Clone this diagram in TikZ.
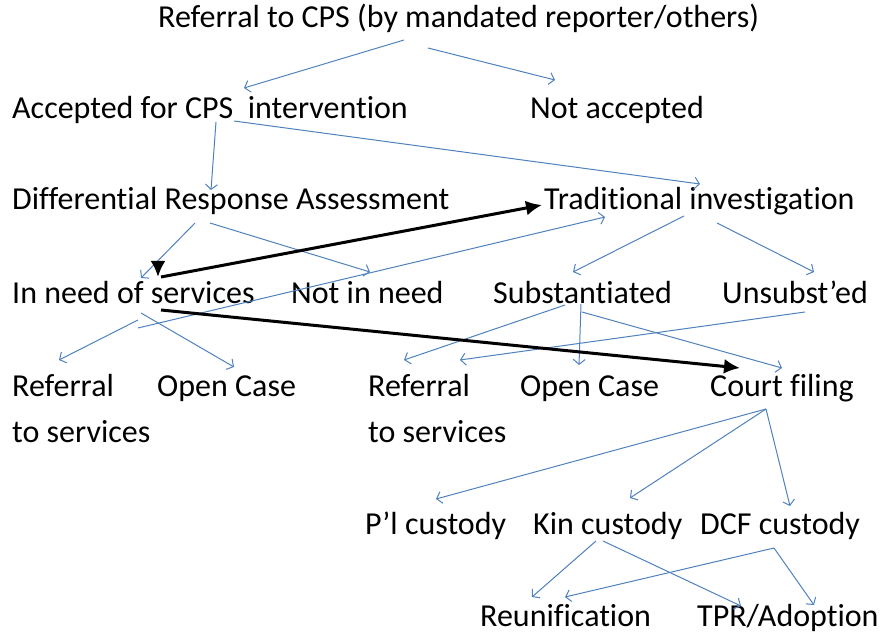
\documentclass[tikz,border=0pt]{standalone}
\usepackage{fontspec}
\setmainfont{Carlito}[Ligatures={NoCommon,NoContextual}]
\usetikzlibrary{arrows.meta,calc}
\definecolor{flowblue}{RGB}{79,129,189}
\tikzset{
    step box/.style={anchor=base west, inner sep=0pt, font=\fontsize{32}{46}\selectfont, align=left},
    flow/.style={draw=flowblue, line width=1pt, -{Straight Barb[length=5pt,width=12pt]}},
    jump/.style={draw=black, line width=3pt, -{Latex[length=16pt,width=15pt]}}
}
\begin{document}
\begin{tikzpicture}[x=1pt, y=-1pt]
    \useasboundingbox (0,0) rectangle (884,639);
    \begin{scope}[every node/.style={step box}]
        \node (ref)   at (158,28)  {Referral to CPS (by mandated reporter/others)};
        \node (acc)   at (12,119)  {Accepted for CPS\ \ intervention};
        \node (nacc)  at (530,119) {Not accepted};
        \node (dra)   at (12,210)  {Differential Response Assessment};
        \node (trad)  at (544,210) {Traditional investigation};
        \node (need)  at (12,304)  {In need of services};
        \node (nneed) at (291,304) {Not in need};
        \node (subst) at (493,304) {Substantiated};
        \node (unsub) at (722,304) {Unsubst’ed};
        \node (refl)  at (12,442)  {Referral\\to services};
        \node (openl) at (157,396) {Open Case};
        \node (refm)  at (368,442) {Referral\\to services};
        \node (openm) at (520,396) {Open Case};
        \node (court) at (710,396) {Court filing};
        \node (pl)    at (365,534) {P’l custody};
        \node (kin)   at (533,534) {Kin custody};
        \node (dcf)   at (700,534) {DCF custody};
        \node (reun)  at (480,626) {Reunification};
        \node (tpr)   at (697,626) {TPR/Adoption};
    \end{scope}
    \draw[flow] ([shift={(246,12)}]ref.base west) -- ([shift={(232,-31)}]acc.base west);
    \draw[flow] ([shift={(270,20)}]ref.base west) -- ([shift={(25,-39)}]nacc.base west);
    \draw[flow] ([shift={(204,3)}]acc.base west) -- ([shift={(199,-20)}]dra.base west);
    \draw[flow] ([shift={(222,2)}]acc.base west) -- ([shift={(156,-26)}]trad.base west);
    \draw[flow] ([shift={(183,13)}]dra.base west) -- ([shift={(129,-26)}]need.base west);
    \draw[flow] ([shift={(198,13)}]dra.base west) -- ([shift={(79,-32)}]nneed.base west);
    \draw[flow] ([shift={(126,24)}]need.base west) -- ([shift={(61,7)}]trad.base west);
    \draw[flow] ([shift={(140,6)}]trad.base west) -- ([shift={(80,-32)}]subst.base west);
    \draw[flow] ([shift={(173,13)}]trad.base west) -- ([shift={(92,-32)}]unsub.base west);
    \draw[flow] ([shift={(126,16)}]need.base west) -- ([shift={(47,-82)}]refl.base west);
    \draw[flow] ([shift={(129,9)}]need.base west) -- ([shift={(77,-29)}]openl.base west);
    \draw[flow] ([shift={(72,1)}]subst.base west) -- ([shift={(36,-82)}]refm.base west);
    \draw[flow] ([shift={(88,0)}]subst.base west) -- ([shift={(59,-31)}]openm.base west);
    \draw[flow] ([shift={(89,8)}]subst.base west) -- ([shift={(72,-28)}]court.base west);
    \draw[flow] ([shift={(83,8)}]unsub.base west) -- ([shift={(92,-82)}]refm.base west);
    \draw[flow] ([shift={(56,13)}]court.base west) -- ([shift={(71,-35)}]pl.base west);
    \draw[flow] ([shift={(56,13)}]court.base west) -- ([shift={(97,-36)}]kin.base west);
    \draw[flow] ([shift={(56,13)}]court.base west) -- ([shift={(90,-28)}]dcf.base west);
    \draw[flow] ([shift={(63,7)}]kin.base west) -- ([shift={(52,-29)}]reun.base west);
    \draw[flow] ([shift={(70,7)}]kin.base west) -- ([shift={(44,-20)}]tpr.base west);
    \draw[flow] ([shift={(74,14)}]dcf.base west) -- ([shift={(85,-29)}]reun.base west);
    \draw[flow] ([shift={(74,14)}]dcf.base west) -- ([shift={(117,-21)}]tpr.base west);
    \draw[jump] ([shift={(149,-27)}]need.base west) -- ([shift={(-2,-5)}]trad.base west);
    \draw[jump] ([shift={(146,-43)}]need.base west) -- ([shift={(146,-27)}]need.base west);
    \draw[jump] ([shift={(149,6)}]need.base west) -- ([shift={(30,-28)}]court.base west);
\end{tikzpicture}
\end{document}
